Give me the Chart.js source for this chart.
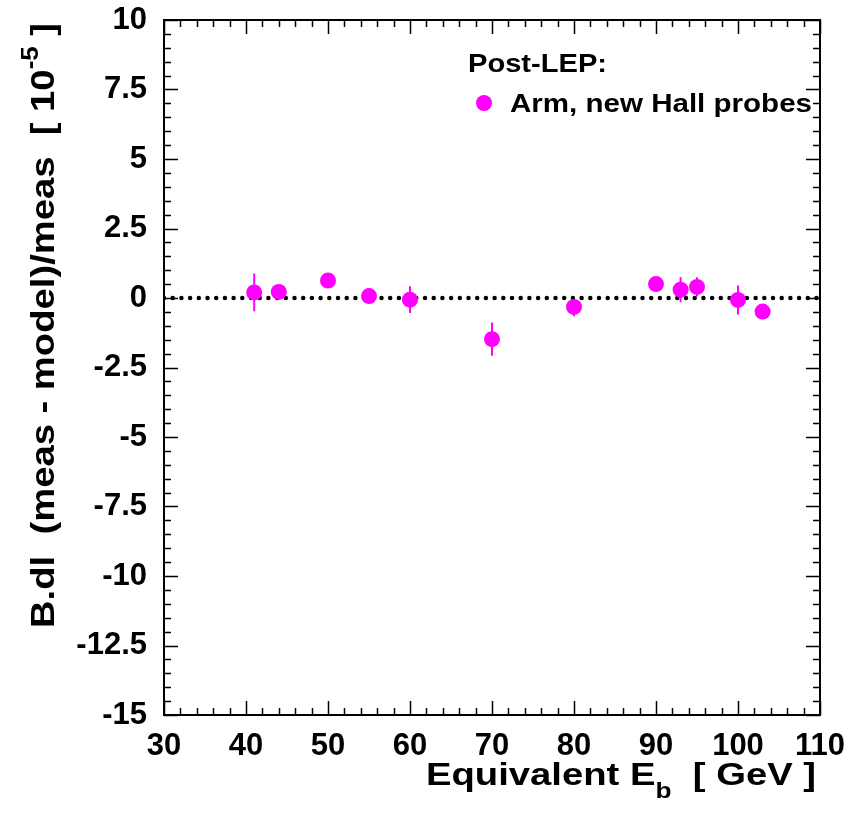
<!DOCTYPE html>
<html>
<head>
<meta charset="utf-8">
<script src="https://cdn.jsdelivr.net/npm/chart.js@4.4.1/dist/chart.umd.min.js"></script>
<style>
  body { margin: 0; background: #fff; }
  canvas { display: block; }
</style>
</head>
<body>
<canvas id="residualChart" width="864" height="815"></canvas>
<script>
// beam energy equivalents [GeV]
const energies = [41, 44, 50, 55, 60, 70, 80, 90, 93, 95, 100, 103];
// B.dl residuals (meas - model)/meas in units of 1e-5
const residuals = [0.2, 0.22, 0.63, 0.07, -0.06, -1.48, -0.32, 0.5, 0.3, 0.4, -0.07, -0.49];
const errors = [0.68, 0.2, 0.2, 0.2, 0.48, 0.6, 0.34, 0.2, 0.45, 0.35, 0.52, 0.2];

const seriesLabel = "Arm, new Hall probes";
const legendTitle = "Post-LEP:";
const MAGENTA = "#ff00ff";
const FONT = "'Liberation Sans', Arial, sans-serif";

const points = energies.map((e, i) => ({ x: e, y: residuals[i] }));

// error bars drawn through the scales
const errorBars = {
  id: "errorBars",
  beforeDatasetsDraw(chart) {
    const ctx = chart.ctx;
    const xs = chart.scales.x, ys = chart.scales.y;
    ctx.save();
    ctx.strokeStyle = MAGENTA;
    ctx.lineWidth = 2;
    energies.forEach((e, i) => {
      const px = xs.getPixelForValue(e);
      ctx.beginPath();
      ctx.moveTo(px, ys.getPixelForValue(residuals[i] - errors[i]));
      ctx.lineTo(px, ys.getPixelForValue(residuals[i] + errors[i]));
      ctx.stroke();
    });
    ctx.restore();
  }
};

// ROOT style frame with ticks on all four sides
const frame = {
  id: "frame",
  afterDraw(chart) {
    const ctx = chart.ctx;
    const a = chart.chartArea;
    const xs = chart.scales.x, ys = chart.scales.y;
    ctx.save();
    ctx.strokeStyle = "#000";
    ctx.lineWidth = 1.5;
    ctx.beginPath();
    for (let v = 30; v <= 110; v += 2) {
      const px = Math.round(xs.getPixelForValue(v)) + 0.5;
      const len = v % 10 === 0 ? 14 : 7;
      ctx.moveTo(px, a.bottom); ctx.lineTo(px, a.bottom - len);
      ctx.moveTo(px, a.top); ctx.lineTo(px, a.top + len);
    }
    for (let k = -30; k <= 20; k++) {
      const v = k / 2;
      const py = Math.round(ys.getPixelForValue(v)) + 0.5;
      const len = k % 5 === 0 ? 14 : 7;
      ctx.moveTo(a.left, py); ctx.lineTo(a.left + len, py);
      ctx.moveTo(a.right, py); ctx.lineTo(a.right - len, py);
    }
    ctx.stroke();
    ctx.lineWidth = 2;
    ctx.strokeRect(a.left, a.top, a.right - a.left, a.bottom - a.top);
    ctx.restore();
  }
};

// draw pieces of text stretched to fit a given length
function drawRuns(ctx, runs, length) {
  let w = 0;
  runs.forEach(r => { ctx.font = r.font; r.w = ctx.measureText(r.text).width; w += r.w; });
  const s = length / w;
  ctx.scale(s, 1);
  let x = 0;
  runs.forEach(r => {
    ctx.font = r.font;
    ctx.fillText(r.text, x, r.dy || 0);
    x += r.w;
  });
}

const titles = {
  id: "titles",
  afterDraw(chart) {
    const ctx = chart.ctx;
    ctx.save();
    ctx.fillStyle = "#000";
    ctx.textBaseline = "alphabetic";
    ctx.textAlign = "left";

    // x axis title
    ctx.save();
    ctx.translate(426, 785);
    drawRuns(ctx, [
      { text: "Equivalent E", font: "bold 32px " + FONT },
      { text: "b", font: "bold 22px " + FONT, dy: 13 },
      { text: "  [ GeV ]", font: "bold 32px " + FONT }
    ], 390);
    ctx.restore();

    // y axis title
    ctx.save();
    ctx.translate(54, 628);
    ctx.rotate(-Math.PI / 2);
    ctx.scale(1, 1.1);
    drawRuns(ctx, [
      { text: "B.dl  (meas - model)/meas  [ 10", font: "bold 31px " + FONT },
      { text: "-5", font: "bold 21px " + FONT, dy: -15 },
      { text: " ]", font: "bold 31px " + FONT }
    ], 605);
    ctx.restore();

    // legend
    ctx.save();
    ctx.translate(468, 72);
    drawRuns(ctx, [{ text: legendTitle, font: "bold 25px " + FONT }], 139);
    ctx.restore();
    ctx.save();
    ctx.translate(510, 112);
    drawRuns(ctx, [{ text: seriesLabel, font: "bold 25px " + FONT }], 302);
    ctx.restore();
    ctx.fillStyle = MAGENTA;
    ctx.beginPath();
    ctx.arc(484, 103, 8, 0, Math.PI * 2);
    ctx.fill();

    ctx.restore();
  }
};

const ctx = document.getElementById("residualChart").getContext("2d");
new Chart(ctx, {
  type: "scatter",
  data: {
    datasets: [
      {
        type: "line",
        label: "zero",
        data: [{ x: 30, y: 0 }, { x: 110, y: 0 }],
        borderColor: "#000",
        borderWidth: 4.5,
        borderDash: [0, 8.7],
        borderCapStyle: "round",
        pointRadius: 0,
        fill: false,
        order: 2
      },
      {
        label: seriesLabel,
        data: points,
        backgroundColor: MAGENTA,
        borderColor: MAGENTA,
        pointRadius: 8,
        pointBorderWidth: 0,
        order: 1
      }
    ]
  },
  options: {
    responsive: false,
    animation: false,
    layout: { padding: { top: 20, right: 44, left: 0, bottom: 0 } },
    plugins: {
      legend: { display: false },
      tooltip: { enabled: false }
    },
    scales: {
      x: {
        type: "linear",
        min: 30,
        max: 110,
        grid: { display: false, drawTicks: false },
        border: { display: false },
        afterFit: (scale) => {
          scale.height = 100;
          scale.paddingLeft = 0;
          scale.paddingRight = 0;
        },
        ticks: {
          stepSize: 10,
          padding: 16,
          color: "#000",
          font: { family: FONT, size: 31, weight: "bold", lineHeight: 1 }
        }
      },
      y: {
        min: -15,
        max: 10,
        grid: { display: false, drawTicks: false },
        border: { display: false },
        afterFit: (scale) => {
          scale.width = 164;
          scale.paddingTop = 0;
          scale.paddingBottom = 0;
        },
        ticks: {
          stepSize: 2.5,
          padding: 17,
          color: "#000",
          font: { family: FONT, size: 31, weight: "bold", lineHeight: 1 }
        }
      }
    }
  },
  plugins: [errorBars, frame, titles]
});
</script>
</body>
</html>
